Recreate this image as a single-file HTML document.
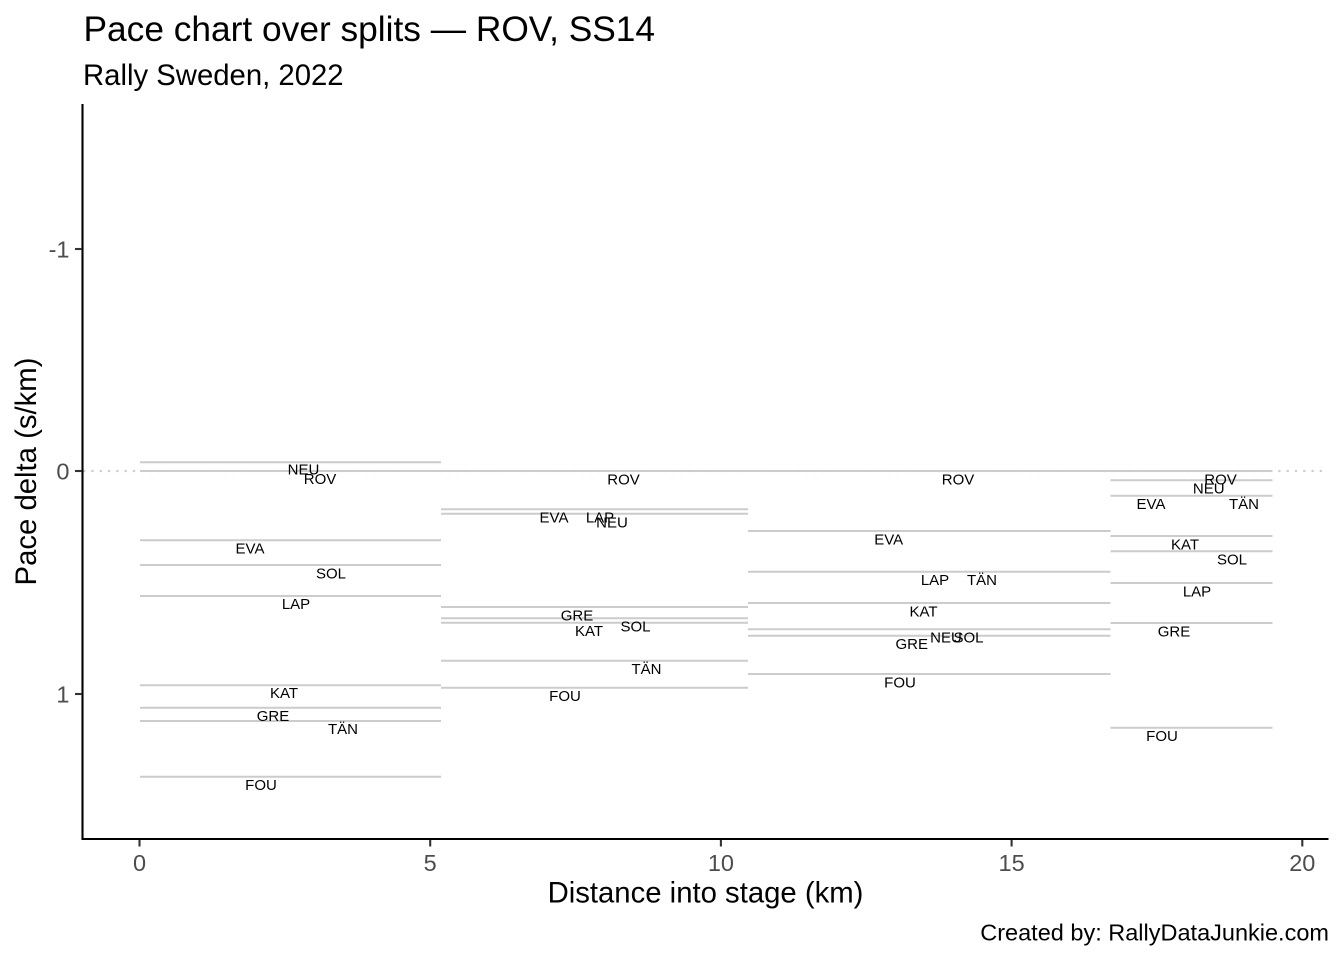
<!DOCTYPE html>
<html>
<head>
<meta charset="utf-8">
<style>
  html, body { margin: 0; padding: 0; background: #ffffff; }
  svg { display: block; }
  text { font-family: "Liberation Sans", Arial, sans-serif; }
  .lbl { font-size: 15px; fill: #000; text-anchor: middle; }
  .tick { font-size: 23.5px; fill: #4d4d4d; }
  .seg { stroke: #cccccc; stroke-width: 2; }
</style>
</head>
<body>
<svg width="1344" height="960" viewBox="0 0 1344 960" xmlns="http://www.w3.org/2000/svg">
  <rect x="0" y="0" width="1344" height="960" fill="#ffffff"/>

  <!-- Title / subtitle -->
  <text x="83.5" y="41" font-size="35.3" fill="#000">Pace chart over splits — ROV, SS14</text>
  <text x="83" y="85" font-size="29.3" fill="#000">Rally Sweden, 2022</text>

  <!-- zero reference dotted line -->
  <line x1="83" y1="471" x2="1328" y2="471" stroke="#cfcfcf" stroke-width="2.2" stroke-dasharray="2.4 5.9"/>

  <!-- ROV baseline across all segments -->
  <line class="seg" x1="140" y1="471" x2="1272.5" y2="471"/>

  <!-- Segment 1 -->
  <g class="seg">
    <line x1="140" y1="462.3" x2="441" y2="462.3"/>
    <line x1="140" y1="540.3" x2="441" y2="540.3"/>
    <line x1="140" y1="565" x2="441" y2="565"/>
    <line x1="140" y1="596" x2="441" y2="596"/>
    <line x1="140" y1="685.3" x2="441" y2="685.3"/>
    <line x1="140" y1="707.7" x2="441" y2="707.7"/>
    <line x1="140" y1="721" x2="441" y2="721"/>
    <line x1="140" y1="776.7" x2="441" y2="776.7"/>
  </g>
  <!-- Segment 2 -->
  <g class="seg">
    <line x1="441" y1="509.3" x2="748" y2="509.3"/>
    <line x1="441" y1="513.7" x2="748" y2="513.7"/>
    <line x1="441" y1="607" x2="748" y2="607"/>
    <line x1="441" y1="618.3" x2="748" y2="618.3"/>
    <line x1="441" y1="622.7" x2="748" y2="622.7"/>
    <line x1="441" y1="660.7" x2="748" y2="660.7"/>
    <line x1="441" y1="687.7" x2="748" y2="687.7"/>
  </g>
  <!-- Segment 3 -->
  <g class="seg">
    <line x1="748" y1="531" x2="1110.5" y2="531"/>
    <line x1="748" y1="571.7" x2="1110.5" y2="571.7"/>
    <line x1="748" y1="603" x2="1110.5" y2="603"/>
    <line x1="748" y1="629.3" x2="1110.5" y2="629.3"/>
    <line x1="748" y1="635.7" x2="1110.5" y2="635.7"/>
    <line x1="748" y1="674" x2="1110.5" y2="674"/>
  </g>
  <!-- Segment 4 -->
  <g class="seg">
    <line x1="1110.5" y1="480.3" x2="1272.5" y2="480.3"/>
    <line x1="1110.5" y1="495.7" x2="1272.5" y2="495.7"/>
    <line x1="1110.5" y1="536" x2="1272.5" y2="536"/>
    <line x1="1110.5" y1="551.3" x2="1272.5" y2="551.3"/>
    <line x1="1110.5" y1="583" x2="1272.5" y2="583"/>
    <line x1="1110.5" y1="623" x2="1272.5" y2="623"/>
    <line x1="1110.5" y1="727.7" x2="1272.5" y2="727.7"/>
  </g>

  <!-- Labels segment 1 -->
  <text class="lbl" x="303.5" y="474.4">NEU</text>
  <text class="lbl" x="320" y="484.1">ROV</text>
  <text class="lbl" x="250" y="553.4">EVA</text>
  <text class="lbl" x="331" y="578.4">SOL</text>
  <text class="lbl" x="296" y="608.9">LAP</text>
  <text class="lbl" x="284" y="697.9">KAT</text>
  <text class="lbl" x="273" y="720.9">GRE</text>
  <text class="lbl" x="343" y="734.2">TÄN</text>
  <text class="lbl" x="261" y="789.9">FOU</text>

  <!-- Labels segment 2 -->
  <text class="lbl" x="623.5" y="484.7">ROV</text>
  <text class="lbl" x="554" y="522.7">EVA</text>
  <text class="lbl" x="600" y="522.7">LAP</text>
  <text class="lbl" x="612" y="527.4">NEU</text>
  <text class="lbl" x="577" y="620.4">GRE</text>
  <text class="lbl" x="635.5" y="631.4">SOL</text>
  <text class="lbl" x="589" y="635.9">KAT</text>
  <text class="lbl" x="646.5" y="673.9">TÄN</text>
  <text class="lbl" x="565" y="700.9">FOU</text>

  <!-- Labels segment 3 -->
  <text class="lbl" x="958" y="484.4">ROV</text>
  <text class="lbl" x="888.7" y="544.4">EVA</text>
  <text class="lbl" x="935" y="585.1">LAP</text>
  <text class="lbl" x="982" y="585.1">TÄN</text>
  <text class="lbl" x="923.5" y="616.4">KAT</text>
  <text class="lbl" x="946" y="642.7">NEU</text>
  <text class="lbl" x="968.5" y="642.7">SOL</text>
  <text class="lbl" x="911.7" y="649.1">GRE</text>
  <text class="lbl" x="900" y="687.4">FOU</text>

  <!-- Labels segment 4 -->
  <text class="lbl" x="1220.5" y="484.4">ROV</text>
  <text class="lbl" x="1208.7" y="493.7">NEU</text>
  <text class="lbl" x="1151" y="509.1">EVA</text>
  <text class="lbl" x="1244" y="509.1">TÄN</text>
  <text class="lbl" x="1185" y="549.4">KAT</text>
  <text class="lbl" x="1232" y="564.7">SOL</text>
  <text class="lbl" x="1197" y="596.4">LAP</text>
  <text class="lbl" x="1174" y="636.4">GRE</text>
  <text class="lbl" x="1162" y="741.1">FOU</text>

  <!-- Axes -->
  <line x1="82.5" y1="104" x2="82.5" y2="840" stroke="#000" stroke-width="2.1"/>
  <line x1="81.5" y1="839" x2="1328.5" y2="839" stroke="#000" stroke-width="2.1"/>

  <!-- Y ticks -->
  <g stroke="#333333" stroke-width="2.1">
    <line x1="75" y1="249" x2="82" y2="249"/>
    <line x1="75" y1="471" x2="82" y2="471"/>
    <line x1="75" y1="694" x2="82" y2="694"/>
  </g>
  <text class="tick" x="69.5" y="257.4" text-anchor="end">-1</text>
  <text class="tick" x="69.5" y="479.4" text-anchor="end">0</text>
  <text class="tick" x="69.5" y="702.4" text-anchor="end">1</text>

  <!-- X ticks -->
  <g stroke="#333333" stroke-width="2.1">
    <line x1="139.5" y1="840" x2="139.5" y2="846.5"/>
    <line x1="430.2" y1="840" x2="430.2" y2="846.5"/>
    <line x1="720.9" y1="840" x2="720.9" y2="846.5"/>
    <line x1="1011.6" y1="840" x2="1011.6" y2="846.5"/>
    <line x1="1302.3" y1="840" x2="1302.3" y2="846.5"/>
  </g>
  <text class="tick" x="139.5" y="871" text-anchor="middle">0</text>
  <text class="tick" x="430.2" y="871" text-anchor="middle">5</text>
  <text class="tick" x="720.9" y="871" text-anchor="middle">10</text>
  <text class="tick" x="1011.6" y="871" text-anchor="middle">15</text>
  <text class="tick" x="1302.3" y="871" text-anchor="middle">20</text>

  <!-- Axis titles -->
  <text x="705.5" y="902.5" font-size="29.3" fill="#000" text-anchor="middle">Distance into stage (km)</text>
  <text transform="translate(36,471.5) rotate(-90)" x="0" y="0" font-size="29.3" fill="#000" text-anchor="middle">Pace delta (s/km)</text>

  <!-- Caption -->
  <text x="1329" y="940.5" font-size="23.5" fill="#000" text-anchor="end">Created by: RallyDataJunkie.com</text>
</svg>
</body>
</html>
